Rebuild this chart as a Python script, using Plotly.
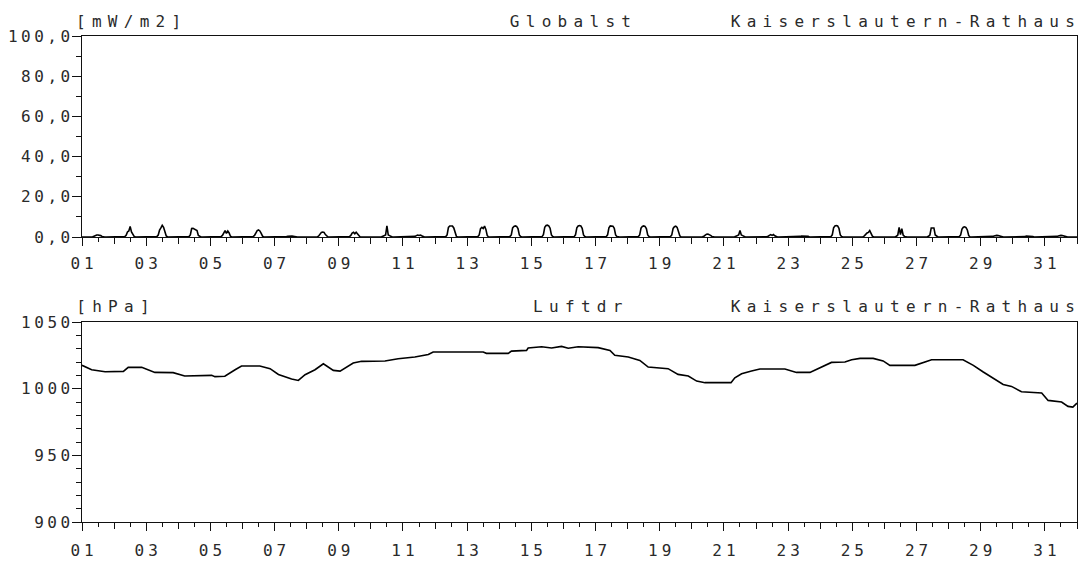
import plotly.graph_objects as go

# ---------------- data ----------------
days = list(range(1, 32))
xtick_vals = [d for d in days if d % 2 == 1]
xtick_text = ["%02d" % d for d in xtick_vals]
xeven_vals = [d for d in range(2, 33) if d % 2 == 0]

solar_ticks = [0, 20, 40, 60, 80, 100]
solar_ticktext = ["0,0", "20,0", "40,0", "60,0", "80,0", "100,0"]
press_ticks = [900, 950, 1000, 1050]
press_ticktext = ["900", "950", "1000", "1050"]

# Globalstrahlung: hourly values for hours 07..17 of each day (other hours 0)
solar_hours = [7, 8, 9, 10, 11, 12, 13, 14, 15, 16, 17]
solar_daylight = [
    [0, 0.1, 0.4, 0.8, 1.0, 1.0, 0.9, 0.7, 0.3, 0, 0],   # 01
    [0, 0.2, 0.8, 2.5, 3.0, 5.3, 2.5, 1.5, 0.3, 0, 0],   # 02
    [0, 0.2, 1.0, 3.5, 4.5, 5.8, 4.8, 2.5, 0.5, 0, 0],   # 03
    [0, 0.2, 1.0, 4.2, 4.3, 4.0, 3.5, 3.2, 0.8, 0.2, 0], # 04
    [0, 0.2, 0.8, 2.5, 3.2, 1.8, 3.0, 2.0, 0.4, 0, 0],   # 05
    [0, 0.2, 0.8, 2.2, 3.2, 3.5, 3.0, 1.8, 0.4, 0, 0],   # 06
    [0, 0, 0.2, 0.4, 0.5, 0.6, 0.5, 0.4, 0.2, 0, 0],     # 07
    [0, 0.1, 0.5, 1.5, 2.3, 2.5, 2.3, 1.2, 0.3, 0, 0],   # 08
    [0, 0.2, 0.8, 2.0, 2.4, 1.6, 2.4, 1.5, 0.4, 0, 0],   # 09
    [0, 0.1, 0.4, 0.8, 1.0, 5.5, 1.0, 0.7, 0.3, 0, 0],   # 10
    [0, 0, 0.3, 0.7, 1.0, 0.8, 1.0, 0.6, 0.2, 0, 0],     # 11
    [0, 0.2, 1.0, 4.8, 5.5, 5.6, 5.5, 4.5, 1.5, 0.2, 0], # 12
    [0, 0.2, 1.0, 4.2, 4.8, 4.2, 5.4, 3.8, 0.8, 0, 0],   # 13
    [0, 0.2, 1.0, 4.5, 5.3, 5.5, 5.3, 4.2, 1.0, 0.2, 0], # 14
    [0, 0.2, 1.2, 4.8, 5.7, 5.9, 5.6, 4.4, 1.0, 0.2, 0], # 15
    [0, 0.2, 1.1, 4.6, 5.5, 5.7, 5.5, 4.3, 1.0, 0.2, 0], # 16
    [0, 0.2, 1.1, 4.6, 5.5, 5.6, 5.4, 4.3, 1.0, 0.2, 0], # 17
    [0, 0.2, 1.0, 4.4, 5.3, 5.5, 5.3, 4.2, 1.0, 0.2, 0], # 18
    [0, 0.2, 1.0, 4.3, 5.1, 5.4, 4.8, 3.0, 0.6, 0, 0],   # 19
    [0, 0.1, 0.4, 1.0, 1.4, 1.5, 1.3, 0.8, 0.3, 0, 0],   # 20
    [0, 0.1, 0.4, 0.8, 1.0, 3.2, 1.0, 0.7, 0.3, 0, 0],   # 21
    [0, 0.1, 0.4, 0.8, 1.2, 0.8, 1.2, 0.6, 0.2, 0, 0],   # 22
    [0, 0.1, 0.3, 0.5, 0.5, 0.5, 0.5, 0.5, 0.3, 0, 0],   # 23
    [0, 0.2, 1.1, 4.6, 5.5, 5.7, 5.5, 4.3, 1.0, 0.2, 0], # 24
    [0, 0.1, 0.6, 1.5, 2.0, 2.3, 3.2, 1.8, 0.4, 0, 0],   # 25
    [0, 0.1, 0.4, 1.0, 4.8, 1.2, 4.2, 1.0, 0.3, 0, 0],   # 26
    [0, 0.1, 0.4, 1.0, 4.5, 4.5, 4.5, 1.0, 0.3, 0, 0],   # 27
    [0, 0.2, 1.0, 4.0, 4.9, 5.1, 4.7, 3.5, 0.8, 0, 0],   # 28
    [0, 0, 0.3, 0.5, 0.7, 0.8, 0.7, 0.5, 0.2, 0, 0],     # 29
    [0, 0, 0.2, 0.5, 0.5, 0.5, 0.5, 0.5, 0.2, 0, 0],     # 30
    [0, 0, 0.3, 0.5, 0.7, 0.8, 0.7, 0.5, 0.2, 0, 0],     # 31
]

# Luftdruck: readings (day position, hPa)
press_day = [1.0, 1.3, 1.72, 2.29, 2.44, 2.86, 3.27, 3.84, 4.2, 5.04,
             5.14, 5.45, 5.77, 5.97, 6.54, 6.86, 7.12, 7.53, 7.74, 7.95,
             8.26, 8.52, 8.83, 9.04, 9.45, 9.71, 10.44, 10.85, 11.37, 11.79,
             11.94, 13.5, 13.6, 14.28, 14.38, 14.85, 14.9, 15.32, 15.63, 15.94,
             16.15, 16.46, 17.08, 17.45, 17.6, 18.02, 18.38, 18.64, 19.26, 19.57,
             19.89, 20.15, 20.41, 21.22, 21.34, 21.55, 21.86, 22.12, 22.9, 23.26,
             23.68, 24.04, 24.35, 24.77, 24.98, 25.24, 25.65, 25.96, 26.17, 26.95,
             27.26, 27.47, 28.45, 28.77, 29.08, 29.4, 29.7, 29.96, 30.27, 30.9,
             31.1, 31.52, 31.72, 31.87, 32.0]
press_val = [1017.5, 1014.2, 1012.7, 1013.0, 1016.0, 1016.0, 1012.2, 1012.0, 1009.5, 1010.0,
             1009.0, 1009.3, 1014.2, 1017.0, 1017.0, 1015.0, 1010.7, 1007.2, 1006.2, 1010.5,
             1014.2, 1018.7, 1013.7, 1013.2, 1019.2, 1020.5, 1020.8, 1022.5, 1023.7, 1025.7,
             1027.5, 1027.5, 1026.5, 1026.5, 1028.2, 1028.7, 1030.5, 1031.5, 1030.5, 1031.7,
             1030.3, 1031.5, 1030.8, 1028.7, 1025.0, 1023.7, 1021.2, 1016.2, 1015.0, 1010.7,
             1009.5, 1005.7, 1004.5, 1004.5, 1008.2, 1011.2, 1013.2, 1014.7, 1014.7, 1012.2,
             1012.2, 1016.2, 1019.7, 1020.0, 1021.7, 1022.7, 1022.7, 1020.8, 1017.5, 1017.5,
             1019.7, 1021.7, 1021.7, 1017.5, 1012.5, 1008.0, 1003.2, 1001.7, 997.7, 996.7,
             991.2, 990.0, 986.7, 986.2, 989.2]

station = "Kaiserslautern-Rathaus"

# build hourly solar series
solar_x, solar_y = [], []
for d, row in zip(days, solar_daylight):
    for h in range(24):
        solar_x.append(d + h / 24.0)
        solar_y.append(row[h - solar_hours[0]] if solar_hours[0] <= h <= solar_hours[-1] else 0)
solar_x.append(32.0)
solar_y.append(0)

# ---------------- figure ----------------
FONT = "DejaVu Sans Mono"
TXT = "#2a2a2a"
LC = "#111111"

fig = go.Figure()
fig.add_trace(go.Scatter(x=solar_x, y=solar_y, mode="lines", xaxis="x", yaxis="y",
                         line=dict(color="black", width=1.6), hoverinfo="skip", showlegend=False))
fig.add_trace(go.Scatter(x=press_day, y=press_val, mode="lines", xaxis="x2", yaxis="y2",
                         line=dict(color="black", width=1.6), hoverinfo="skip", showlegend=False))
# dummy traces for the overlay tick axes
fig.add_trace(go.Scatter(x=[1], y=[None], xaxis="x3", yaxis="y", showlegend=False, hoverinfo="skip"))
fig.add_trace(go.Scatter(x=[1], y=[None], xaxis="x4", yaxis="y2", showlegend=False, hoverinfo="skip"))

top_dom = [0.5864, 1.0]
bot_dom = [0.0, 0.4115]

def xax(anchor, standoff):
    return dict(anchor=anchor, domain=[0, 1], range=[1, 32], showline=True, mirror=True,
                linecolor=LC, linewidth=1.3, showgrid=False, zeroline=False, automargin=False,
                ticks="outside", tickvals=xtick_vals, ticktext=xtick_text, ticklen=8,
                tickwidth=1.3, tickcolor=LC, ticklabelstandoff=standoff,
                tickfont=dict(family=FONT, size=16, color=TXT),
                minor=dict(tick0=1, dtick=0.5, ticks="outside", ticklen=4,
                           tickwidth=1.3, tickcolor=LC, showgrid=False))

def xover(over, anchor):
    return dict(overlaying=over, anchor=anchor, range=[1, 32], showline=False, showgrid=False,
                zeroline=False, automargin=False, ticks="outside", tickvals=xeven_vals, ticklen=6,
                tickwidth=1.3, tickcolor=LC, showticklabels=False)

def yax(dom, rng, tv, tt, minor_dtick):
    return dict(domain=dom, range=rng, showline=True, mirror=True, linecolor=LC, linewidth=1.3,
                showgrid=False, zeroline=False, automargin=False, ticks="outside",
                tickvals=tv, ticktext=tt, ticklen=9, tickwidth=1.3, tickcolor=LC,
                tickfont=dict(family=FONT, size=16, color=TXT),
                minor=dict(tick0=rng[0], dtick=minor_dtick, ticks="outside", ticklen=5,
                           tickwidth=1.3, tickcolor=LC, showgrid=False))

fig.update_layout(
    width=1087, height=563,
    margin=dict(l=82, r=10, t=36, b=41),
    paper_bgcolor="white", plot_bgcolor="white",
    showlegend=False,
    xaxis=xax("y", 4),
    xaxis2=xax("y2", 6),
    xaxis3=xover("x", "y"),
    xaxis4=xover("x2", "y2"),
    yaxis=yax(top_dom, [0, 100], solar_ticks, solar_ticktext, 10),
    yaxis2=yax(bot_dom, [900, 1050], press_ticks, press_ticktext, 10),
)

def ann(text, px, py):
    fig.add_annotation(text=text, xref="paper", yref="paper",
                       x=(px - 82) / 995.0, y=(522 - py) / 486.0,
                       xanchor="center", yanchor="middle", showarrow=False,
                       font=dict(family=FONT, size=16, color=TXT))

ann("[mW/m2]", 128, 21)
ann("Globalst", 570, 21)
ann(station, 903, 21)
ann("[hPa]", 113, 306)
ann("Luftdr", 578, 306)
ann(station, 903, 306)

post = """
document.body.style.margin = '0';
document.body.style.overflow = 'hidden';
var gd = document.getElementById('{plot_id}');
gd.querySelectorAll('g.ytick text, g.y2tick text').forEach(function(t){ t.style.letterSpacing='3.5px'; t.setAttribute('dx','5'); });
gd.querySelectorAll('g.xtick text, g.x2tick text').forEach(function(t){ t.style.letterSpacing='4px'; t.setAttribute('dx','2'); });
gd.querySelectorAll('.annotation-text').forEach(function(t){ t.style.letterSpacing='6.3px'; t.setAttribute('dx','3'); });
"""

fig.write_html("out.html", post_script=post, config={"displayModeBar": False})
